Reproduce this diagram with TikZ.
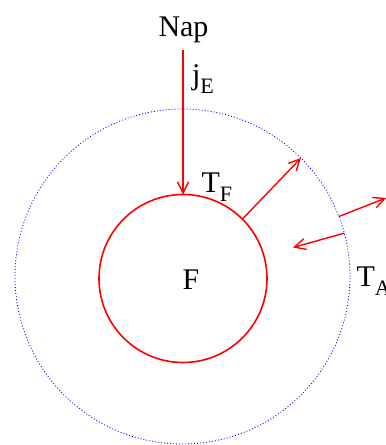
\documentclass[tikz,border=0pt]{standalone}
\usepackage{fontspec}
\setmainfont{Liberation Serif}
\usetikzlibrary{arrows.meta}
\newcommand\sbs[1]{\raisebox{-9pt}{\fontsize{22}{22}\selectfont #1}}
\begin{document}
\begin{tikzpicture}[x=1pt,y=-1pt,
  lbl/.style={inner sep=0pt,outer sep=0pt,font=\fontsize{30}{34}\selectfont},
  flux/.style={red,line width=1.4pt,-{Straight Barb[length=11pt,width=11pt]}},
  ring/.style={circle,inner sep=0pt,outer sep=0pt}]
\useasboundingbox (0,0) rectangle (386,445);
\clip (0,0) rectangle (386,445);
\node[ring,draw=blue,line width=0.8pt,dash pattern=on 1pt off 2pt,minimum size=335pt] (outer) at (182.5,276.5) {};
\node[ring,draw=red,line width=1.6pt,minimum size=168pt] (inner) at (183,278.5) {};
\node[lbl,anchor=base] (nap) at (183.5,36) {Nap};
\node[lbl,anchor=base west] (je) at (192,84) {j\sbs{E}};
\node[lbl,anchor=base west] (tf) at (201.5,192) {T\sbs{F}};
\node[lbl,anchor=base west] (f) at (182.5,289) {F};
\node[lbl,anchor=base west] (ta) at (356.5,286) {T\sbs{A}};
\coordinate (src) at (183,50);
\coordinate (out2) at (386,198);
\coordinate (in3) at (293,247.5);
\draw[flux] (src) -- (inner.north);
\draw[flux] (inner.45) -- (outer.45);
\draw[flux] (outer.21) -- (out2);
\draw[flux] (outer.15) -- (in3);
\end{tikzpicture}
\end{document}
